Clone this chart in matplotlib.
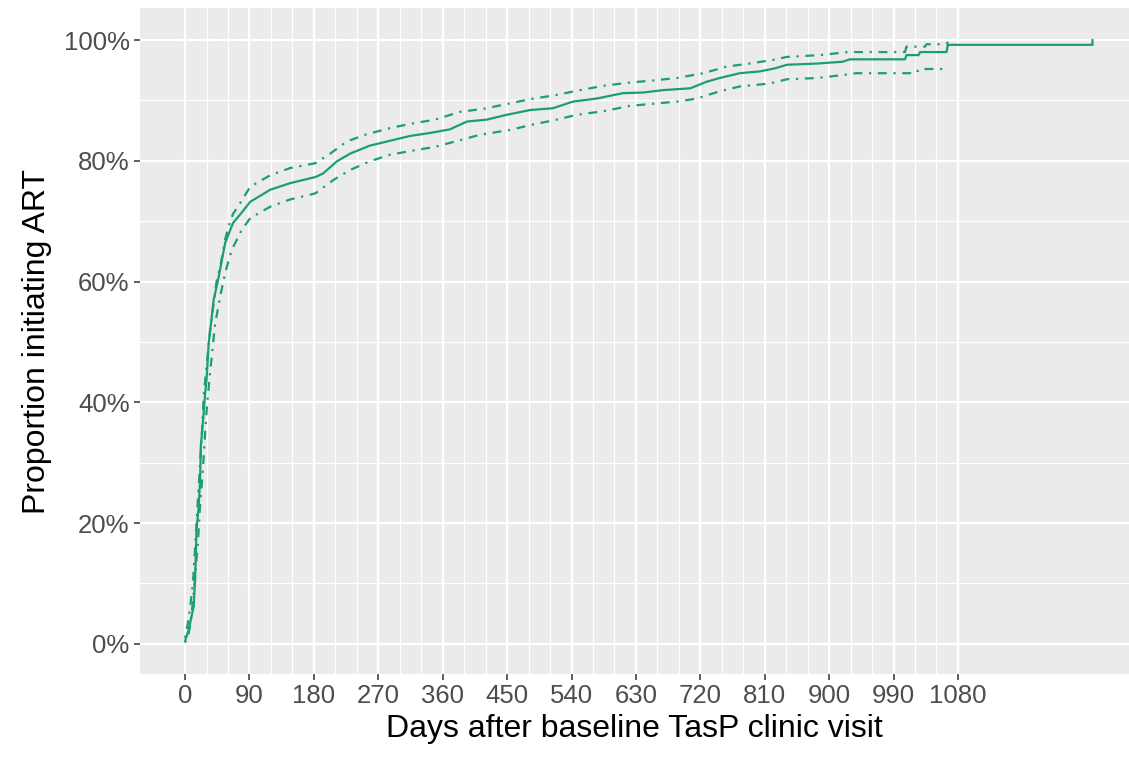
import numpy as np
import matplotlib.pyplot as plt
from matplotlib.ticker import FixedLocator, PercentFormatter

# cumulative proportion initiating ART
main_days = [0, 2, 5, 9, 12, 14, 16, 19, 21, 22, 26, 28, 30, 33, 40, 47, 56, 67, 79, 91,
             119, 147, 182, 193, 212, 231, 258, 286, 314, 342, 370, 394, 421, 449,
             482, 514, 542, 575, 612, 640, 668, 706, 729, 747, 775, 803, 824, 841,
             883, 919, 929, 1006, 1008, 1025, 1027, 1064, 1066, 1268, 1268]
main_pct = [0.005, 0.012, 0.023, 0.045, 0.062, 0.106, 0.189, 0.227, 0.272, 0.327, 0.382,
            0.415, 0.437, 0.498, 0.57, 0.608, 0.664, 0.697, 0.714, 0.732,
            0.752, 0.763, 0.773, 0.779, 0.799, 0.812, 0.825, 0.833, 0.841, 0.846,
            0.852, 0.865, 0.868, 0.876, 0.884, 0.887, 0.898, 0.903, 0.912, 0.913,
            0.917, 0.920, 0.931, 0.937, 0.945, 0.948, 0.953, 0.959, 0.961, 0.964,
            0.968, 0.968, 0.975, 0.975, 0.980, 0.980, 0.992, 0.992, 1.0]

upper_days = [0, 4, 7, 11, 14, 18, 21, 24, 26, 30, 35, 44, 50, 56, 63, 67, 77, 91, 119,
              147, 182, 203, 226, 254, 286, 314, 349, 384, 417, 454, 482, 519, 552,
              584, 617, 654, 687, 724, 757, 789, 821, 841, 887, 926, 1006, 1008, 1034,
              1036, 1064, 1066]
upper_pct = [0.01, 0.035, 0.06, 0.1, 0.16, 0.24, 0.30, 0.36, 0.41, 0.46, 0.52, 0.60, 0.63,
             0.67, 0.70, 0.712, 0.73, 0.757, 0.776, 0.788, 0.796, 0.812, 0.832, 0.844,
             0.854, 0.861, 0.868, 0.881, 0.886, 0.895, 0.902, 0.909, 0.917, 0.924,
             0.929, 0.933, 0.937, 0.945, 0.956, 0.961, 0.967, 0.972, 0.975, 0.980,
             0.980, 0.989, 0.989, 0.993, 0.993, 0.997]

lower_days = [0, 4, 7, 11, 14, 18, 21, 25, 28, 31, 35, 42, 49, 56, 65, 79, 91, 119, 147,
              182, 207, 231, 258, 286, 319, 349, 384, 412, 454, 482, 519, 547, 584,
              622, 650, 687, 715, 747, 775, 817, 841, 883, 919, 938, 1013, 1015, 1025,
              1027, 1066]
lower_pct = [0.002, 0.012, 0.03, 0.07, 0.11, 0.17, 0.23, 0.29, 0.35, 0.40, 0.45, 0.53,
             0.575, 0.614, 0.652, 0.685, 0.705, 0.724, 0.736, 0.746, 0.768, 0.785,
             0.799, 0.81, 0.817, 0.823, 0.834, 0.843, 0.851, 0.859, 0.868, 0.876,
             0.882, 0.891, 0.894, 0.898, 0.903, 0.915, 0.923, 0.928, 0.935, 0.937,
             0.942, 0.945, 0.945, 0.949, 0.949, 0.952, 0.952]

x_breaks = np.arange(0, 1081, 90)
x_minor = np.arange(0, 1081, 30)
y_breaks = np.arange(0, 1.01, 0.2)
y_minor = np.arange(0.1, 1.0, 0.2)

green = '#1B9E77'
plt.rcParams['font.family'] = ['Liberation Sans', 'DejaVu Sans']

fig = plt.figure(figsize=(11.29, 7.57), dpi=100)
ax = fig.add_axes([140 / 1129, 1 - 674 / 757, 989 / 1129, 666 / 757])
ax.set_facecolor('#EBEBEB')
for s in ax.spines.values():
    s.set_visible(False)

# grid lines, ggplot style
for v in x_minor:
    ax.axvline(v, color='white', lw=0.8, zorder=0)
for v in x_breaks:
    ax.axvline(v, color='white', lw=1.6, zorder=0)
for v in y_minor:
    ax.axhline(v, color='white', lw=0.8, zorder=0)
for v in y_breaks:
    ax.axhline(v, color='white', lw=1.6, zorder=0)

ax.plot(main_days, main_pct, color=green, lw=1.6, zorder=3)
ax.plot(upper_days, upper_pct, color=green, lw=1.6,
        linestyle=(0, (1, 3, 4, 3)), zorder=3)
ax.plot(lower_days, lower_pct, color=green, lw=1.6,
        linestyle=(0, (1, 3, 4, 3)), zorder=3)

ax.set_xlim(-63, 1319)
ax.set_ylim(-0.05, 1.053)
ax.xaxis.set_major_locator(FixedLocator(x_breaks))
ax.yaxis.set_major_locator(FixedLocator(y_breaks))
ax.yaxis.set_major_formatter(PercentFormatter(1.0, decimals=0))
ax.tick_params(axis='both', length=4.5, width=1.1, color='#333333',
               labelcolor='#4D4D4D', labelsize=18.5, pad=3)

ax.set_xlabel('Days after baseline TasP clinic visit', fontsize=23, labelpad=4)
ax.set_ylabel('Proportion initiating ART', fontsize=23, labelpad=8)

fig.savefig('out.png', dpi=100)
